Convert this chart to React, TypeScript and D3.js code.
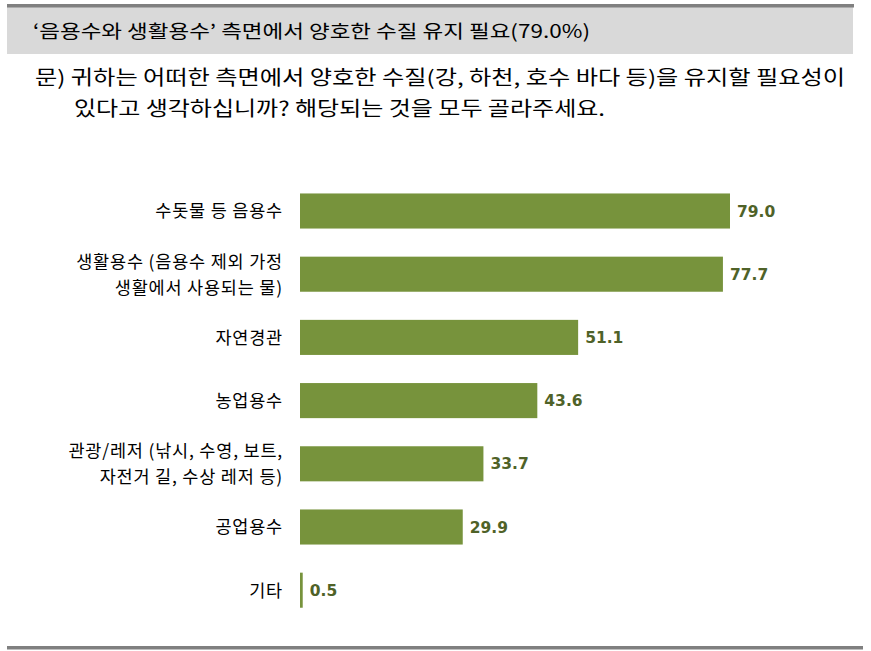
import React from "react";
import * as d3 from "d3";

const categories: string[][] = [
  ["수돗물 등 음용수"],
  ["생활용수 (음용수 제외 가정", "생활에서 사용되는 물)"],
  ["자연경관"],
  ["농업용수"],
  ["관광/레저 (낚시, 수영, 보트,", "자전거 길, 수상 레저 등)"],
  ["공업용수"],
  ["기타"],
];
const values: number[] = [79.0, 77.7, 51.1, 43.6, 33.7, 29.9, 0.5];
const headerText = "‘음용수와 생활용수’ 측면에서 양호한 수질 유지 필요(79.0%)";
const questionLines = [
  "문) 귀하는 어떠한 측면에서 양호한 수질(강, 하천, 호수 바다 등)을 유지할 필요성이",
  "있다고 생각하십니까? 해당되는 것을 모두 골라주세요.",
];

const W = 871;
const H = 651;
const FONT = "'Noto Sans CJK KR', 'Noto Sans', sans-serif";

export default function App() {
  const keys = categories.map((c) => c.join(" "));
  const x = d3.scaleLinear().domain([0, 79]).range([300, 730]);
  const y = d3
    .scaleBand<string>()
    .domain(keys)
    .range([179.4, 621.8])
    .paddingInner(0.445)
    .paddingOuter(0.2225);

  return (
    <svg
      width={W}
      height={H}
      style={{ position: "absolute", left: 0, top: 0, background: "#fff" }}
    >
      <rect x={7} y={7} width={846} height={47} fill="#d9d9d9" />
      <rect x={7} y={4} width={847} height={3.5} fill="#808080" />
      <text
        x={33}
        y={37.5}
        fontFamily={FONT}
        fontSize={18.5}
        fill="#000"
        textLength={557}
        lengthAdjust="spacingAndGlyphs"
      >
        {headerText}
      </text>
      <text
        x={35}
        y={85}
        fontFamily={FONT}
        fontSize={20}
        fill="#000"
        textLength={810}
        lengthAdjust="spacingAndGlyphs"
      >
        {questionLines[0]}
      </text>
      <text
        x={74}
        y={116}
        fontFamily={FONT}
        fontSize={20}
        fill="#000"
        textLength={531}
        lengthAdjust="spacingAndGlyphs"
      >
        {questionLines[1]}
      </text>

      {categories.map((lines, i) => {
        const k = keys[i];
        const cy = (y(k) as number) + y.bandwidth() / 2;
        const v = values[i];
        return (
          <g key={k}>
            <rect
              x={x(0)}
              y={y(k)}
              width={x(v) - x(0)}
              height={y.bandwidth()}
              fill="#77933c"
            />
            {lines.map((ln, j) => (
              <text
                key={j}
                x={283}
                y={cy + (j - (lines.length - 1) / 2) * 26}
                dy="0.36em"
                textAnchor="end"
                fontFamily={FONT}
                fontSize={17.5}
                letterSpacing={0.8}
                fill="#000"
              >
                {ln}
              </text>
            ))}
            <text
              x={x(v) + 7}
              y={cy}
              dy="0.36em"
              fontFamily="'DejaVu Sans', sans-serif"
              fontWeight="bold"
              fontSize={15.5}
              fill="#4f6228"
            >
              {v.toFixed(1)}
            </text>
          </g>
        );
      })}

      <rect x={7} y={646} width={856} height={3.5} fill="#808080" />
    </svg>
  );
}
